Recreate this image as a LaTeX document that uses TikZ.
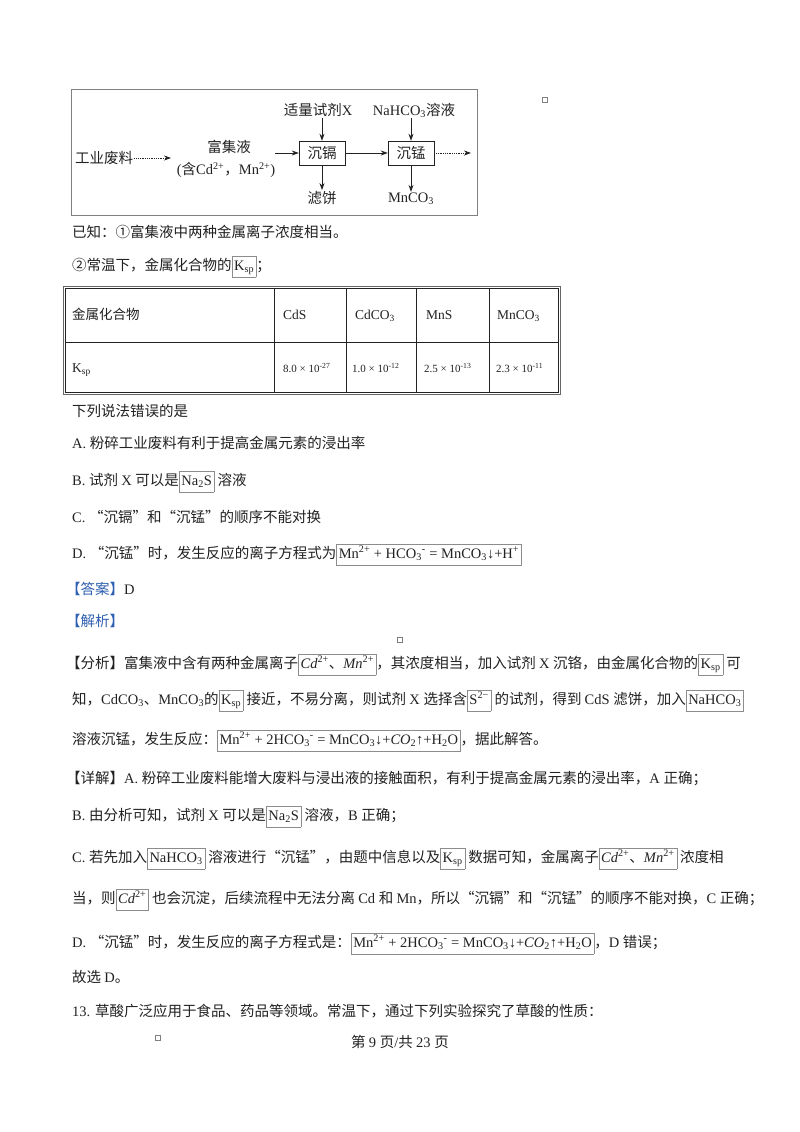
\documentclass[tikz,border=0pt]{standalone}
\usepackage{fontspec}
\setmainfont{Liberation Serif}
\newfontfamily\cjk{Noto Sans CJK SC}
\usetikzlibrary{arrows.meta}
\XeTeXinterchartokenstate=1
\newXeTeXintercharclass\cjkclass
\newcount\cc
\cc="4E00 \loop\ifnum\cc<"A000 \XeTeXcharclass\cc=\cjkclass \advance\cc by 1 \repeat
\cc="3000 \loop\ifnum\cc<"3040 \XeTeXcharclass\cc=\cjkclass \advance\cc by 1 \repeat
\cc="FF00 \loop\ifnum\cc<"FF20 \XeTeXcharclass\cc=\cjkclass \advance\cc by 1 \repeat
\XeTeXcharclass"2460=\cjkclass \XeTeXcharclass"2461=\cjkclass
\XeTeXcharclass"201C=\cjkclass \XeTeXcharclass"201D=\cjkclass
\XeTeXinterchartoks 0 \cjkclass = {\cjk}
\XeTeXinterchartoks 4095 \cjkclass = {\cjk}
\XeTeXinterchartoks \cjkclass 0 = {\rmfamily}
\XeTeXinterchartoks 4095 0 = {\rmfamily}
\newcommand{\bx}[1]{{\rmfamily\setlength{\fboxsep}{2pt}\fcolorbox{black!45}{white}{\strut\rmfamily #1}}}
\newcommand{\ksp}{K\textsubscript{sp}}
\newcommand{\sps}[1]{\textsuperscript{\rmfamily #1}}
\newcommand{\sbs}[1]{\textsubscript{\rmfamily #1}}
\definecolor{ink}{HTML}{222222}
\definecolor{hd}{HTML}{2E5FB0}
\begin{document}
\begin{tikzpicture}[x=1pt,y=-1pt,
  txt/.style={anchor=base west,inner sep=0pt,text=ink,font=\fontsize{14.5}{17}\selectfont},
  fl/.style={inner sep=1pt,text=ink,font=\fontsize{14.5}{17}\selectfont},
  stepbox/.style={draw=ink,minimum width=46pt,minimum height=24pt,inner sep=0pt,text=ink,font=\fontsize{14.5}{17}\selectfont},
  arr/.style={-{Stealth[length=7pt,width=5pt]},thick,draw=ink},
  darr/.style={arr,densely dotted},
  sq/.style={draw=black!50,minimum size=5pt,inner sep=0pt}]
\useasboundingbox[fill=white] (0,0) rectangle (800,1132);
% flow diagram
\draw[black!50] (71,89) rectangle (477,215);
\node[fl,anchor=west] (waste) at (74,158) {工业废料};
\node[fl] (fj1) at (229,147) {富集液};
\node[fl] (fj2) at (226,170) {(含Cd\sps{2+}，Mn\sps{2+})};
\node[stepbox] (cd) at (322,153) {沉镉};
\node[stepbox] (mn) at (411,153) {沉锰};
\node[fl] (x) at (318,110) {适量试剂X};
\node[fl] (na) at (414,110) {NaHCO\sbs{3}溶液};
\node[fl] (lb) at (322,198) {滤饼};
\node[fl] (mc) at (411,199) {MnCO\sbs{3}};
\coordinate (wend) at (171,158);
\coordinate (fjs) at (275,153);
\coordinate (oute) at (471,153);
\draw[darr] (waste.east) -- (wend);
\draw[arr] (fjs) -- (cd.west);
\draw[arr] (x.south -| cd.north) -- (cd.north);
\draw[arr] (na.south -| mn.north) -- (mn.north);
\draw[arr] (cd.south) -- (lb.north);
\draw[arr] (mn.south) -- (mc.north);
\draw[arr] (cd.east) -- (mn.west);
\draw[darr] (mn.east) -- (oute);
\node[sq] (s1) at (545,100) {};
\node[txt] (k1) at (72,237) {已知：①富集液中两种金属离子浓度相当。};
\node[txt] (k2) at (72,270) {②常温下，金属化合物的\bx{\ksp}；};
% table
\draw[black!60,line width=0.8pt] (63,286) rectangle (560,394);
\draw[ink] (65,288) rectangle (558,392);
\draw[ink] (65,342) -- (558,342);
\foreach \xx in {274,346,416,489} \draw[ink] (\xx,288) -- (\xx,392);
\node[txt,font=\fontsize{13.5}{16}\selectfont] (h0) at (72,319) {金属化合物};
\node[txt,font=\fontsize{13.5}{16}\selectfont] (h1) at (283,319) {CdS};
\node[txt,font=\fontsize{13.5}{16}\selectfont] (h2) at (355,319) {CdCO\sbs{3}};
\node[txt,font=\fontsize{13.5}{16}\selectfont] (h3) at (426,319) {MnS};
\node[txt,font=\fontsize{13.5}{16}\selectfont] (h4) at (497,319) {MnCO\sbs{3}};
\node[txt,font=\fontsize{13.5}{16}\selectfont] (v0) at (72,372) {\ksp};
\node[txt,font=\fontsize{11}{13}\selectfont] (v1) at (283,372) {8.0 × 10\sps{-27}};
\node[txt,font=\fontsize{11}{13}\selectfont] (v2) at (352,372) {1.0 × 10\sps{-12}};
\node[txt,font=\fontsize{11}{13}\selectfont] (v3) at (424,372) {2.5 × 10\sps{-13}};
\node[txt,font=\fontsize{11}{13}\selectfont] (v4) at (496,372) {2.3 × 10\sps{-11}};
\node[txt] (q) at (72,416) {下列说法错误的是};
\node[txt] (qa) at (72,448) {A. 粉碎工业废料有利于提高金属元素的浸出率};
\node[txt] (qb) at (72,485) {B. 试剂 X 可以是\bx{Na\sbs{2}S} 溶液};
\node[txt] (qc) at (72,522) {C. “沉镉”和“沉锰”的顺序不能对换};
\node[txt] (qd) at (72,558) {D. “沉锰”时，发生反应的离子方程式为\bx{Mn\sps{2+} + HCO\sbs{3}\sps{-} = MnCO\sbs{3}↓+H\sps{+}}};
\node[txt,text=hd] (ans) at (66,594) {【答案】\textcolor{ink}{D}};
\node[txt,text=hd] (jx) at (66,626) {【解析】};
\node[sq] (s2) at (400,640) {};
\node[txt] (f1) at (66,668) {【分析】富集液中含有两种金属离子\bx{\textit{Cd}\sps{2+}、\textit{Mn}\sps{2+}}，其浓度相当，加入试剂 X 沉铬，由金属化合物的\bx{\ksp} 可};
\node[txt] (f2) at (72,704) {知，CdCO\sbs{3}、MnCO\sbs{3}的\bx{\ksp} 接近，不易分离，则试剂 X 选择含\bx{S\sps{2−}} 的试剂，得到 CdS 滤饼，加入\bx{NaHCO\sbs{3}}};
\node[txt] (f3) at (72,744) {溶液沉锰，发生反应：\bx{Mn\sps{2+} + 2HCO\sbs{3}\sps{-} = MnCO\sbs{3}↓+\textit{CO}\sbs{2}↑+H\sbs{2}O}，据此解答。};
\node[txt] (d1) at (66,783) {【详解】A. 粉碎工业废料能增大废料与浸出液的接触面积，有利于提高金属元素的浸出率，A 正确；};
\node[txt] (d2) at (72,820) {B. 由分析可知，试剂 X 可以是\bx{Na\sbs{2}S} 溶液，B 正确；};
\node[txt] (d3) at (72,862) {C. 若先加入\bx{NaHCO\sbs{3}} 溶液进行“沉锰”，由题中信息以及\bx{\ksp} 数据可知，金属离子\bx{\textit{Cd}\sps{2+}、\textit{Mn}\sps{2+}} 浓度相};
\node[txt] (d4) at (72,903) {当，则\bx{\textit{Cd}\sps{2+}} 也会沉淀，后续流程中无法分离 Cd 和 Mn，所以“沉镉”和“沉锰”的顺序不能对换，C 正确；};
\node[txt] (d5) at (72,947) {D. “沉锰”时，发生反应的离子方程式是：\bx{Mn\sps{2+} + 2HCO\sbs{3}\sps{-} = MnCO\sbs{3}↓+\textit{CO}\sbs{2}↑+H\sbs{2}O}，D 错误；};
\node[txt] (d6) at (72,982) {故选 D。};
\node[txt] (n13) at (72,1016) {13. 草酸广泛应用于食品、药品等领域。常温下，通过下列实验探究了草酸的性质：};
\node[sq] (s3) at (158,1038) {};
\node[txt,anchor=base] (foot) at (400,1047) {第 9 页/共 23 页};
\end{tikzpicture}
\end{document}
